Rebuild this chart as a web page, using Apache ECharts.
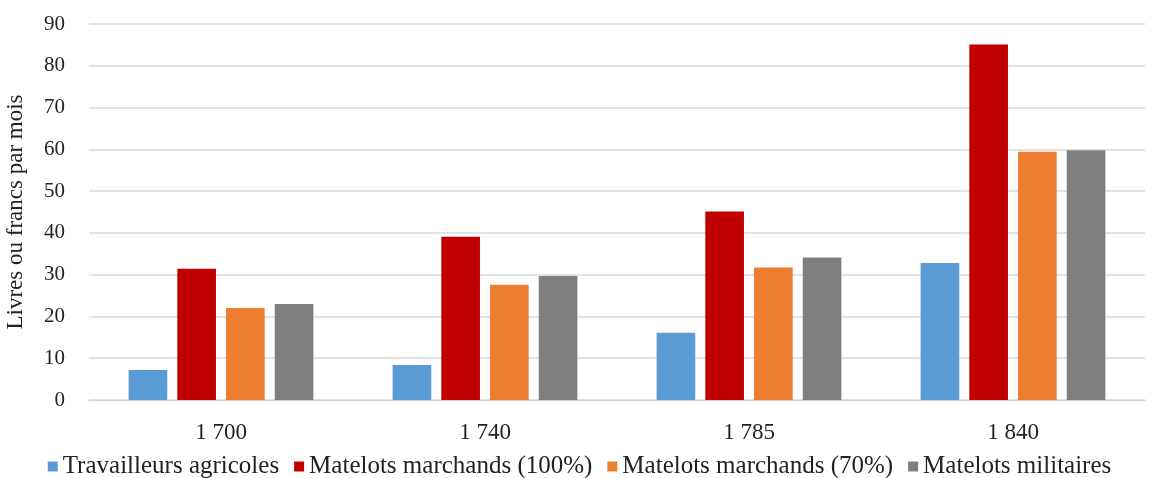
<!DOCTYPE html>
<html><head><meta charset="utf-8">
<script src="https://cdn.jsdelivr.net/npm/echarts@6/dist/echarts.min.js"></script>
<style>html,body{margin:0;padding:0;background:#fff}#c{width:1159px;height:478px}</style>
</head><body><div id="c"></div>
<script>
const categories = ['1 700', '1 740', '1 785', '1 840'];
const seriesNames = ['Travailleurs agricoles', 'Matelots marchands (100%)', 'Matelots marchands (70%)', 'Matelots militaires'];
const agricoles = [7.2, 8.4, 16.1, 32.8];
const marchands100 = [31.4, 39.1, 45.1, 85.1];
const marchands70 = [22.0, 27.6, 31.7, 59.4];
const militaires = [23.0, 29.7, 34.1, 59.8];
const colors = ['#5b9bd5', '#c00000', '#ed7d31', '#7f7f7f'];
const values = [agricoles, marchands100, marchands70, militaires];

const font = '"Liberation Serif", "Times New Roman", serif';
const chart = echarts.init(document.getElementById('c'));
chart.setOption({
  animation: false,
  textStyle: { fontFamily: font },
  grid: { left: 89, right: 14, top: 24, bottom: 78, containLabel: false, outerBoundsMode: 'none' },
  legend: {
    top: 449, left: 'center',
    itemWidth: 10, itemHeight: 10, itemGap: 15,
    icon: 'rect',
    textStyle: { fontFamily: font, fontSize: 25, color: '#222' },
    data: seriesNames
  },
  xAxis: {
    type: 'category', data: categories,
    axisLine: { lineStyle: { color: '#d0d0d0', width: 1 } },
    axisTick: { show: false },
    axisLabel: { fontFamily: font, fontSize: 23, color: '#222', margin: 21 }
  },
  yAxis: {
    type: 'value', min: 0, max: 90, interval: 10,
    name: 'Livres ou francs par mois', nameLocation: 'middle', nameGap: 62,
    nameTextStyle: { fontFamily: font, fontSize: 23, color: '#222' },
    axisLabel: { fontFamily: font, fontSize: 21, color: '#222', margin: 24 },
    splitLine: { lineStyle: { color: '#d9d9d9', width: 1.5 } }
  },
  series: seriesNames.map((n, i) => ({
    name: n, type: 'bar', data: values[i],
    itemStyle: { color: colors[i] },
    barGap: '26%', barCategoryGap: '30%'
  }))
});
</script></body></html>
